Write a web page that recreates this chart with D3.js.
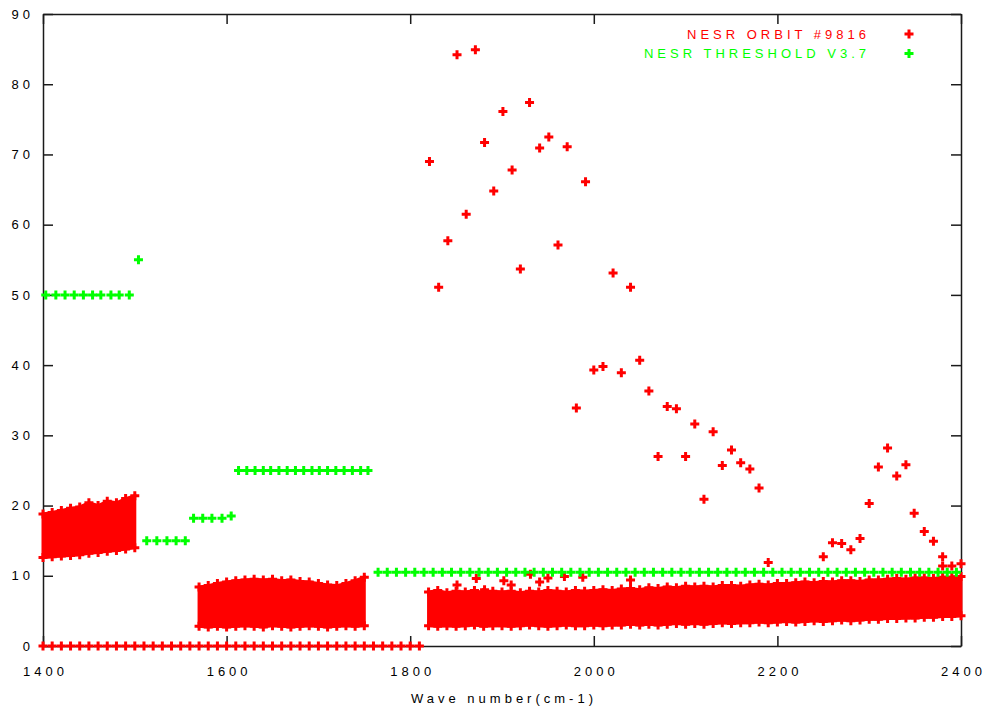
<!DOCTYPE html>
<html>
<head>
<meta charset="utf-8">
<script src="https://cdn.jsdelivr.net/npm/d3@7"></script>
<style>
  body { margin: 0; background: #fff; }
  svg text { font-family: "Liberation Sans", Arial, sans-serif; font-size: 13px; letter-spacing: 4px; }
</style>
</head>
<body>
<svg id="chart"></svg>
<script>
// tick values
const xTicks = [1400, 1600, 1800, 2000, 2200, 2400];
const yTicks = [0, 10, 20, 30, 40, 50, 60, 70, 80, 90];

// NESR ORBIT #9816 -- dense bands (envelope of the point cloud)
const band1X  = [1400, 1410, 1420, 1430, 1440, 1450, 1460, 1470, 1480, 1490, 1500];
const band1Hi = [18.8, 19.0, 19.3, 19.6, 19.8, 20.4, 20.0, 20.6, 20.4, 21.0, 21.4];
const band1Lo = [12.6, 12.7, 12.8, 12.9, 13.0, 13.2, 13.3, 13.5, 13.6, 13.8, 14.0];

const band2X  = [1570, 1580, 1590, 1600, 1610, 1620, 1630, 1640, 1650, 1660, 1670, 1680, 1690, 1700, 1710, 1720, 1730, 1740, 1750];
const band2Hi = [8.4, 8.6, 8.9, 9.1, 9.3, 9.4, 9.5, 9.4, 9.5, 9.3, 9.4, 9.2, 9.1, 8.9, 8.7, 8.6, 8.9, 9.3, 9.8];
const band2Lo = [2.8, 2.7, 2.8, 2.7, 2.8, 2.9, 2.8, 2.7, 2.9, 2.8, 2.7, 2.8, 2.9, 2.8, 2.7, 2.8, 2.9, 2.8, 2.9];

const band3X = [1820, 1830, 1840, 1850, 1860, 1870, 1880, 1890, 1900,
  1910, 1920, 1930, 1940, 1950, 1960, 1970, 1980, 1990, 2000,
  2010, 2020, 2030, 2040, 2050, 2060, 2070, 2080, 2090, 2100,
  2110, 2120, 2130, 2140, 2150, 2160, 2170, 2180, 2190, 2200,
  2210, 2220, 2230, 2240, 2250, 2260, 2270, 2280, 2290, 2300,
  2310, 2320, 2330, 2340, 2350, 2360, 2370, 2380, 2390, 2400];
const band3Hi = [7.7, 7.9, 7.6, 7.8, 7.7, 7.9, 7.6, 7.8, 7.7,
  7.8, 7.6, 7.8, 7.7, 7.9, 7.8, 7.7, 7.9, 7.8, 7.9,
  8.0, 7.9, 8.1, 8.2, 8.0, 8.3, 8.2, 8.4, 8.3, 8.5,
  8.4, 8.5, 8.4, 8.6, 8.6, 8.5, 8.7, 8.8, 8.7, 8.9,
  8.9, 9.0, 9.1, 9.0, 9.2, 9.1, 9.3, 9.3, 9.2, 9.4,
  9.4, 9.5, 9.6, 9.5, 9.7, 9.7, 9.6, 9.8, 9.8, 9.9];
const band3Lo = [2.9, 2.8, 2.9, 2.8, 2.9, 3.0, 2.8, 2.9, 2.9,
  2.8, 2.9, 3.0, 2.9, 2.8, 2.9, 3.0, 2.9, 2.9, 3.0,
  2.9, 3.0, 3.0, 3.1, 3.0, 3.1, 3.0, 3.1, 3.2, 3.1,
  3.2, 3.1, 3.2, 3.3, 3.2, 3.3, 3.3, 3.4, 3.3, 3.4,
  3.5, 3.4, 3.5, 3.6, 3.5, 3.6, 3.7, 3.6, 3.7, 3.8,
  3.8, 3.9, 3.9, 4.0, 4.0, 4.1, 4.1, 4.2, 4.2, 4.3];

// NESR ORBIT #9816 -- zero values
const zeroX = [1400, 1410, 1420, 1430, 1440, 1450, 1460, 1470, 1480, 1490, 1500, 1510, 1520, 1530,
  1540, 1550, 1560, 1570, 1580, 1590, 1600, 1610, 1620, 1630, 1640, 1650, 1660, 1670,
  1680, 1690, 1700, 1710, 1720, 1730, 1740, 1750, 1760, 1770, 1780, 1790, 1800, 1810];

// NESR ORBIT #9816 -- isolated points
const orbitPts = [
  [1821, 69.0], [1831, 51.1], [1841, 57.7], [1851, 84.2], [1861, 61.5], [1871, 84.9], [1881, 71.7],
  [1891, 64.8], [1901, 76.1], [1911, 67.8], [1920, 53.7], [1930, 77.4], [1941, 70.9], [1951, 72.5],
  [1961, 57.1], [1971, 71.1], [1981, 33.9], [1991, 66.1], [2000, 39.3], [2010, 39.8], [2021, 53.1],
  [2030, 38.9], [2040, 51.1], [2050, 40.7], [2060, 36.3], [2070, 27.0], [2080, 34.1], [2090, 33.8],
  [2100, 27.0], [2110, 31.6], [2120, 20.9], [2130, 30.5], [2140, 25.7], [2150, 27.9], [2160, 26.1],
  [2170, 25.2], [2180, 22.5], [2190, 11.9], [2250, 12.7], [2260, 14.7], [2270, 14.6], [2280, 13.7],
  [2290, 15.3], [2300, 20.3], [2310, 25.5], [2320, 28.2], [2330, 24.2], [2340, 25.8], [2349, 18.9],
  [2360, 16.3], [2370, 14.9], [2380, 12.7], [2390, 11.4], [2400, 11.7],
  [1851, 8.7], [1872, 9.6], [1881, 8.0], [1902, 9.3], [1910, 8.7], [1931, 10.2], [1941, 9.1],
  [1950, 9.7], [1968, 9.9], [1988, 9.8], [2040, 9.4], [2380, 11.4]
];

// NESR THRESHOLD V3.7
const thrX50 = [1403, 1414, 1424, 1434, 1444, 1454, 1463, 1474, 1483, 1494];
const thrX15 = [1513, 1524, 1535, 1545, 1555];
const thrX18 = [1564, 1574, 1584, 1595];
const thrX25 = [1613, 1622, 1631, 1640, 1648, 1657, 1666, 1675, 1684, 1693, 1701, 1710, 1719, 1728, 1737, 1746, 1754];
const thrX10 = [1765, 1775, 1785, 1795, 1805, 1815, 1825, 1835, 1845, 1855, 1865, 1875, 1885, 1895, 1905, 1915,
  1925, 1935, 1945, 1955, 1965, 1975, 1985, 1995, 2005, 2015, 2025, 2035, 2045, 2055, 2065, 2075,
  2085, 2095, 2105, 2115, 2125, 2135, 2145, 2155, 2165, 2175, 2185, 2195, 2205, 2215, 2225, 2235,
  2245, 2255, 2265, 2275, 2285, 2295, 2305, 2315, 2325, 2335, 2345, 2355, 2365, 2375, 2385, 2395];
const thrExtra = [[1504, 55.0], [1605, 18.5]];

const labels = ["NESR ORBIT #9816", "NESR THRESHOLD V3.7"];
const colors = ["#ff0000", "#00ff00"];

const W = 987, H = 711;
const margin = { top: 14, right: 26, bottom: 65, left: 43 };
const svg = d3.select("#chart").attr("width", W).attr("height", H);
const x = d3.scaleLinear().domain([1400, 2400]).range([margin.left, W - margin.right]);
const y = d3.scaleLinear().domain([0, 90]).range([H - margin.bottom, margin.top]);

const plusPath = "M-4.5,0H4.5M0,-4.5V4.5";
function drawPlus(g, pts, color) {
  g.selectAll(null).data(pts).enter().append("path")
    .attr("d", plusPath)
    .attr("transform", d => `translate(${x(d[0])},${y(d[1])})`)
    .attr("stroke", color).attr("stroke-width", 3).attr("fill", "none");
}

// frame and ticks
const axisColor = "#1a1a1a";
const bottom = svg.append("g").attr("transform", `translate(0,${y(0)})`)
  .call(d3.axisBottom(x).tickValues(xTicks).tickSizeInner(-10).tickSizeOuter(0).tickPadding(21).tickFormat(d3.format("d")));
const left = svg.append("g").attr("transform", `translate(${x(1400)},0)`)
  .call(d3.axisLeft(y).tickValues(yTicks).tickSizeInner(-10).tickSizeOuter(0).tickPadding(9));
svg.append("g").attr("transform", `translate(0,${y(90)})`)
  .call(d3.axisTop(x).tickValues(xTicks).tickSizeInner(-10).tickSizeOuter(0).tickFormat(""));
svg.append("g").attr("transform", `translate(${x(2400)},0)`)
  .call(d3.axisRight(y).tickValues(yTicks).tickSizeInner(-10).tickSizeOuter(0).tickFormat(""));
svg.selectAll(".domain, .tick line").attr("stroke", axisColor).attr("stroke-width", 1.5);
svg.selectAll(".tick text").attr("fill", "#000").style("font-family", null).style("font-size", null);
bottom.selectAll("text").attr("font-family", null).attr("font-size", null).attr("dx", 2);
left.selectAll("text").attr("font-family", null).attr("font-size", null);
svg.selectAll("g").attr("font-family", null).attr("font-size", null);

// red bands
const plot = svg.append("g");
const area = d3.area().x(d => x(d[0])).y0(d => y(d[1])).y1(d => y(d[2]));
[[band1X, band1Lo, band1Hi], [band2X, band2Lo, band2Hi], [band3X, band3Lo, band3Hi]].forEach(([bx, lo, hi]) => {
  const rows = bx.map((v, i) => [v, lo[i], hi[i]]);
  plot.append("path").datum(rows).attr("d", area)
    .attr("fill", colors[0]).attr("stroke", colors[0]).attr("stroke-width", 3);
  drawPlus(plot, rows.map(r => [r[0], r[1]]), colors[0]);
  drawPlus(plot, rows.map(r => [r[0], r[2]]), colors[0]);
});
drawPlus(plot, zeroX.map(v => [v, 0]), colors[0]);
drawPlus(plot, orbitPts, colors[0]);

// green threshold
const thrPts = [
  ...thrX50.map(v => [v, 50]), ...thrX15.map(v => [v, 15]), ...thrX18.map(v => [v, 18.2]),
  ...thrX25.map(v => [v, 25]), ...thrX10.map(v => [v, 10.5]), ...thrExtra
];
drawPlus(plot, thrPts, colors[1]);

// x axis title
svg.append("text").attr("x", (x(1400) + x(2400)) / 2 + 2).attr("y", 703)
  .attr("text-anchor", "middle").attr("fill", "#000").text("Wave number(cm-1)");

// legend
const legend = svg.append("g");
labels.forEach((t, i) => {
  const ly = 34 + i * 19.5;
  legend.append("text").attr("x", 870).attr("y", ly + 4.5).attr("text-anchor", "end")
    .attr("fill", colors[i]).text(t);
  legend.append("path").attr("d", plusPath).attr("transform", `translate(909,${ly})`)
    .attr("stroke", colors[i]).attr("stroke-width", 3);
});
</script>
</body>
</html>
